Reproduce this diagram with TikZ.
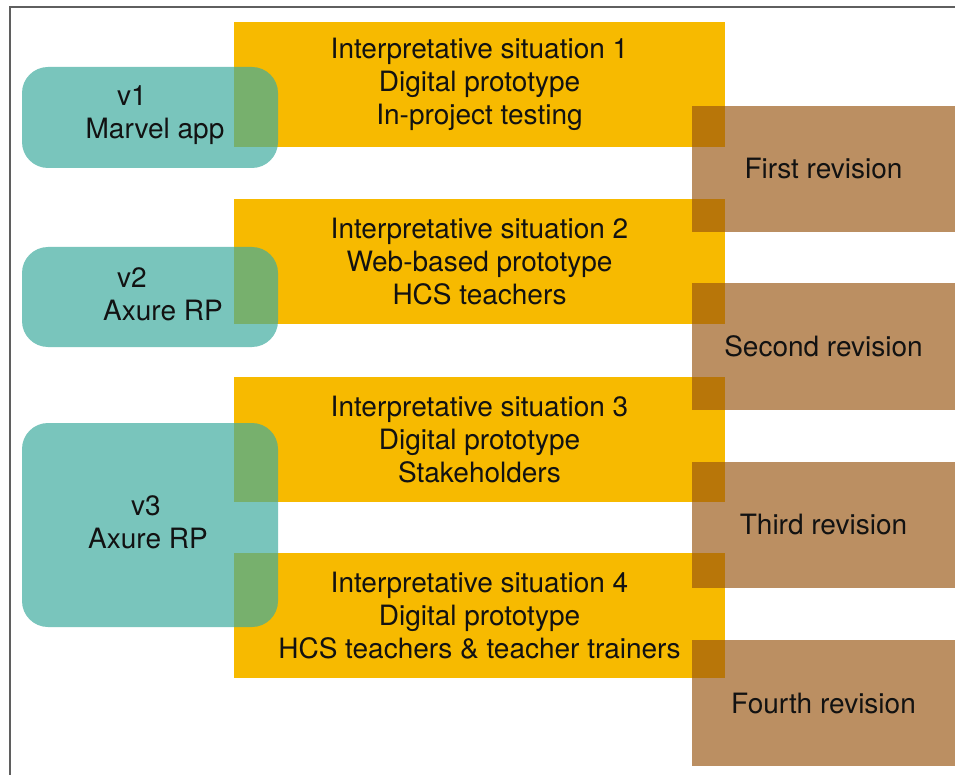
\documentclass[tikz,border=0pt]{standalone}
\usepackage{fontspec}
\setmainfont{TeX Gyre Heros}
\definecolor{isyellow}{RGB}{247,186,0}
\definecolor{vteal}{RGB}{62,172,159}
\definecolor{revbrown}{RGB}{151,83,15}
\definecolor{framegray}{RGB}{95,95,95}
\definecolor{ink}{RGB}{18,18,18}
\begin{document}
\begin{tikzpicture}[x=1pt,y=-1pt,
  txt/.style={font=\fontsize{28}{33}\selectfont, text=ink},
  situation/.style={txt, rectangle, fill=isyellow, minimum width=491pt, minimum height=125pt, inner sep=0pt, align=center},
  version/.style={rectangle, rounded corners=26pt, fill=vteal, fill opacity=0.69, minimum width=256pt, inner sep=0pt},
  vlabel/.style={txt, align=center, inner sep=0pt},
  revision/.style={txt, rectangle, fill=revbrown, fill opacity=0.65, text opacity=1, minimum width=263pt, minimum height=126pt, inner sep=0pt}]
\useasboundingbox (0,0) rectangle (955,775);
\fill[white] (0,0) rectangle (955,775);
\coordinate (fTL) at (9.5,7.5);
\coordinate (fTR) at (955,7.5);
\coordinate (fBL) at (9.5,775);
\draw[framegray, line width=2pt] (fTR) -- (fTL) -- (fBL);

% interpretative situations
\node[situation] (s1) at (479.5,84.5) {Interpretative situation 1\\Digital prototype\\In-project testing};
\node[situation] (s2) at (479.5,262) {Interpretative situation 2\\Web-based prototype\\HCS teachers};
\node[situation] (s3) at (479.5,439.5) {Interpretative situation 3\\Digital prototype\\Stakeholders};
\node[situation] (s4) at (479.5,615.5) {Interpretative situation 4\\Digital prototype\\HCS teachers \& teacher trainers};

% versions
\node[version, minimum height=101pt] (v1) at (150,117.5) {};
\node[version, minimum height=100pt] (v2) at (150,297) {};
\node[version, minimum height=204pt] (v3) at (150,525) {};
\node[vlabel] (v1t) at ([xshift=5pt,yshift=2.5pt]v1.center) {v1\kern46pt\\Marvel app};
\node[vlabel] (v2t) at ([xshift=13pt,yshift=2.5pt]v2.center) {v2\kern62pt\\Axure RP};
\node[vlabel] (v3t) at ([xshift=-2pt,yshift=3pt]v3.center) {v3\kern4pt\\Axure RP};

% revisions
\node[revision] (r1) at (823.5,169) {First revision};
\node[revision] (r2) at (823.5,346.5) {Second revision};
\node[revision] (r3) at (823.5,524.5) {Third revision};
\node[revision] (r4) at (823.5,703) {Fourth revision};
\end{tikzpicture}
\end{document}
